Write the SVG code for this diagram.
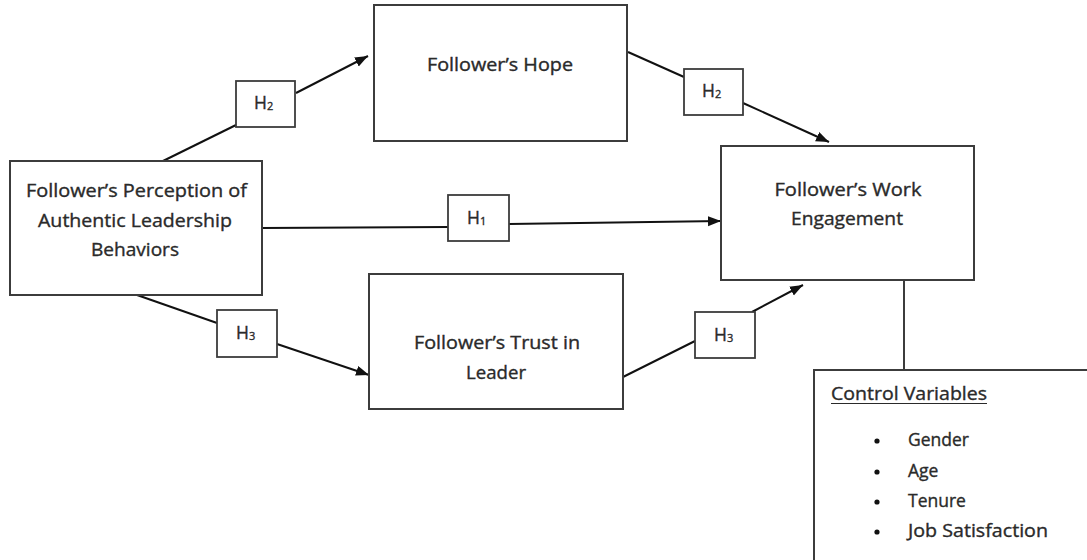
<svg xmlns="http://www.w3.org/2000/svg" width="1087" height="560" viewBox="0 0 1087 560">
<style>
.box{fill:#fff;stroke:#3c3c3c;stroke-width:2}
.lab{fill:#fff;stroke:#3c3c3c;stroke-width:1.8}
.t{font-family:"Open Sans","Liberation Sans",sans-serif;font-size:17.5px;fill:#2a2a2a;stroke:#2a2a2a;stroke-width:0.35}
.c{text-anchor:middle}
.sub{font-size:11px}
.con{stroke:#111;stroke-width:2;fill:none}
</style>
<defs>
<marker id="ah" markerUnits="userSpaceOnUse" markerWidth="14" markerHeight="12" refX="13" refY="5" orient="auto">
<path d="M0,0 L13,5 L0,10 z" fill="#111"/>
</marker>
</defs>
<g id="connectors">
<line class="con" x1="163" y1="161" x2="236" y2="125"/>
<line class="con" x1="296" y1="93" x2="368" y2="56" marker-end="url(#ah)"/>
<line class="con" x1="628" y1="52" x2="684" y2="77"/>
<line class="con" x1="743" y1="103" x2="829" y2="142" marker-end="url(#ah)"/>
<line class="con" x1="262" y1="228" x2="448" y2="227"/>
<line class="con" x1="509" y1="224" x2="721" y2="221" marker-end="url(#ah)"/>
<line class="con" x1="137" y1="295" x2="217" y2="323"/>
<line class="con" x1="277" y1="344" x2="369" y2="375" marker-end="url(#ah)"/>
<line class="con" x1="623" y1="377" x2="695" y2="341"/>
<line class="con" x1="752" y1="312" x2="803" y2="285" marker-end="url(#ah)"/>
<line class="con" x1="904" y1="280" x2="904" y2="370" style="stroke:#3c3c3c"/>
</g>
<g id="perception">
<rect class="box" x="10" y="161" width="252" height="134"/>
<text class="t c" x="136.5" y="197" textLength="221" lengthAdjust="spacingAndGlyphs">Follower’s Perception of</text>
<text class="t c" x="135" y="227" textLength="194" lengthAdjust="spacingAndGlyphs">Authentic Leadership</text>
<text class="t c" x="135" y="256" textLength="88" lengthAdjust="spacingAndGlyphs">Behaviors</text>
</g>
<g id="hope">
<rect class="box" x="374" y="5" width="253" height="136"/>
<text class="t c" x="500" y="71" textLength="146" lengthAdjust="spacingAndGlyphs">Follower’s Hope</text>
</g>
<g id="trust">
<rect class="box" x="369" y="274" width="254" height="135"/>
<text class="t c" x="497" y="349" textLength="166" lengthAdjust="spacingAndGlyphs">Follower’s Trust in</text>
<text class="t c" x="496" y="379" textLength="60" lengthAdjust="spacingAndGlyphs">Leader</text>
</g>
<g id="engagement">
<rect class="box" x="721" y="146" width="253" height="134"/>
<text class="t c" x="848" y="196" textLength="147" lengthAdjust="spacingAndGlyphs">Follower’s Work</text>
<text class="t c" x="847" y="225" textLength="112" lengthAdjust="spacingAndGlyphs">Engagement</text>
</g>
<g id="h2-left">
<rect class="lab" x="236" y="81" width="59" height="46"/>
<text class="t" x="254" y="109">H<tspan class="sub" dy="1">2</tspan></text>
</g>
<g id="h2-right">
<rect class="lab" x="684" y="69" width="59" height="46"/>
<text class="t" x="702" y="97">H<tspan class="sub" dy="1">2</tspan></text>
</g>
<g id="h1">
<rect class="lab" x="448" y="195" width="61" height="46"/>
<text class="t" x="467" y="224">H<tspan class="sub" dy="1">1</tspan></text>
</g>
<g id="h3-left">
<rect class="lab" x="217" y="310" width="60" height="47"/>
<text class="t" x="236" y="339">H<tspan class="sub" dy="1">3</tspan></text>
</g>
<g id="h3-right">
<rect class="lab" x="695" y="312" width="60" height="46"/>
<text class="t" x="714" y="341">H<tspan class="sub" dy="1">3</tspan></text>
</g>
<g id="controls">
<rect class="box" x="814" y="370" width="300" height="220"/>
<text class="t" x="831" y="400" textLength="156" lengthAdjust="spacingAndGlyphs">Control Variables</text>
<line x1="831" y1="403.5" x2="987" y2="403.5" stroke="#2a2a2a" stroke-width="1.2"/>
<circle cx="877" cy="441" r="2.6" fill="#111"/>
<circle cx="877" cy="472" r="2.6" fill="#111"/>
<circle cx="877" cy="502" r="2.6" fill="#111"/>
<circle cx="877" cy="532" r="2.6" fill="#111"/>
<text class="t" x="908" y="446">Gender</text>
<text class="t" x="908" y="477">Age</text>
<text class="t" x="908" y="507">Tenure</text>
<text class="t" x="908" y="537" textLength="140" lengthAdjust="spacingAndGlyphs">Job Satisfaction</text>
</g>
</svg>
